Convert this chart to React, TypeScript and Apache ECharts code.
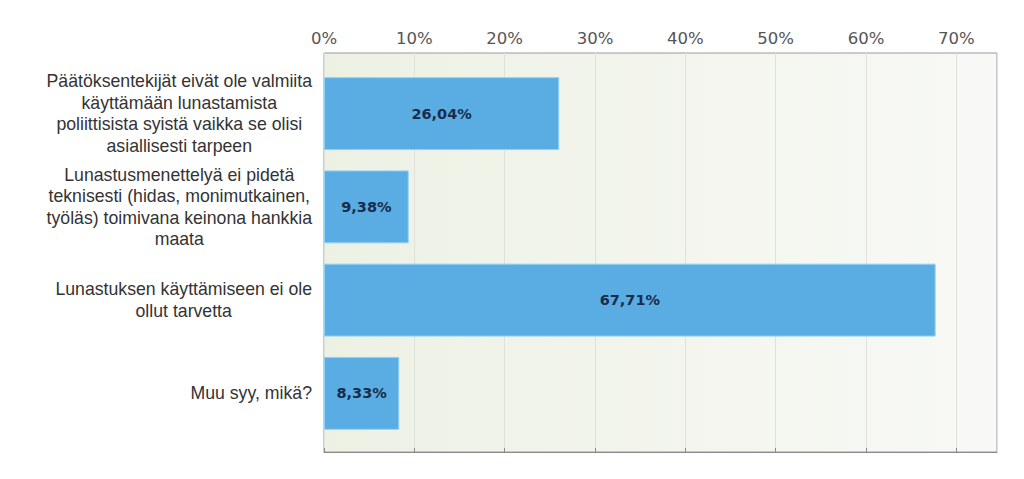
import React, { useEffect, useRef } from "react";
import * as echarts from "echarts";

const categories = [
  "Päätöksentekijät eivät ole valmiita\nkäyttämään lunastamista\npoliittisista syistä vaikka se olisi\nasiallisesti tarpeen",
  "Lunastusmenettelyä ei pidetä\nteknisesti (hidas, monimutkainen,\ntyöläs) toimivana keinona hankkia\nmaata",
  "Lunastuksen käyttämiseen ei ole\nollut tarvetta",
  "Muu syy, mikä?",
];
const values = [26.04, 9.38, 67.71, 8.33];
const axisMax = 74.5;
const tickStep = 10;

export default function App() {
  const ref = useRef<HTMLDivElement>(null);
  useEffect(() => {
    document.body.style.margin = "0";
    const chart = echarts.init(ref.current!, null, { renderer: "svg" });
    const left = 324;
    const right = 27;
    chart.setOption({
      animation: false,
      backgroundColor: "#ffffff",
      grid: [
        {
          left,
          right,
          top: 67,
          bottom: 39,
          containLabel: false,
        },
        {
          left,
          right,
          top: 53,
          bottom: 27,
          show: true,
          borderColor: "#9a9a9a",
          borderWidth: 1,
          backgroundColor: new echarts.graphic.LinearGradient(0, 0, 1, 0, [
            { offset: 0, color: "#edf1e4" },
            { offset: 1, color: "#f8f9f6" },
          ]),
        },
      ],
      xAxis: [
        {
          gridIndex: 0,
          type: "value",
          min: 0,
          max: axisMax,
          interval: tickStep,
          show: false,
        },
        {
          gridIndex: 1,
          type: "value",
          position: "top",
          min: 0,
          max: axisMax,
          interval: tickStep,
          axisLine: { show: true, lineStyle: { color: "#8a8a8a", width: 1 } },
          axisTick: { show: true, length: 4, lineStyle: { color: "#8a8a8a" } },
          splitLine: { show: true, lineStyle: { color: "#e0e1dc", width: 1 } },
          axisLabel: {
            showMaxLabel: false,
            margin: 6,
            color: "#555555",
            fontFamily: "DejaVu Sans",
            fontSize: 16.5,
            formatter: (v: number) => (v % tickStep === 0 ? `${v}%` : ""),
          },
        },
      ],
      yAxis: [
        {
          gridIndex: 0,
          type: "category",
          inverse: true,
          data: categories,
          axisLine: { show: false },
          axisTick: { show: false },
          splitLine: { show: false },
          axisLabel: {
            margin: 12,
            formatter: (v: string) =>
              v
                .split("\n")
                .map((l) => `{c|${l}}`)
                .join("\n"),
            rich: {
              c: {
                align: "center",
                fontFamily: "Liberation Sans",
                fontSize: 17.7,
                lineHeight: 21.5,
                color: "#333333",
              },
            },
          },
        },
        {
          gridIndex: 1,
          type: "value",
          min: 0,
          max: 1,
          show: false,
        },
      ],
      series: [
        {
          type: "bar",
          xAxisIndex: 0,
          yAxisIndex: 0,
          data: values,
          barCategoryGap: "21.8%",
          itemStyle: {
            color: "#5aade3",
            borderColor: "#8fd2f6",
            borderWidth: 1,
          },
          label: {
            show: true,
            position: "inside",
            color: "#1b2b4a",
            fontFamily: "DejaVu Sans",
            fontWeight: "bold",
            fontSize: 14.5,
            formatter: (p: any) => `${p.value.toFixed(2).replace(".", ",")}%`,
          },
        },
      ],
    });
    return () => chart.dispose();
  }, []);
  return <div ref={ref} style={{ width: 1024, height: 479 }} />;
}
